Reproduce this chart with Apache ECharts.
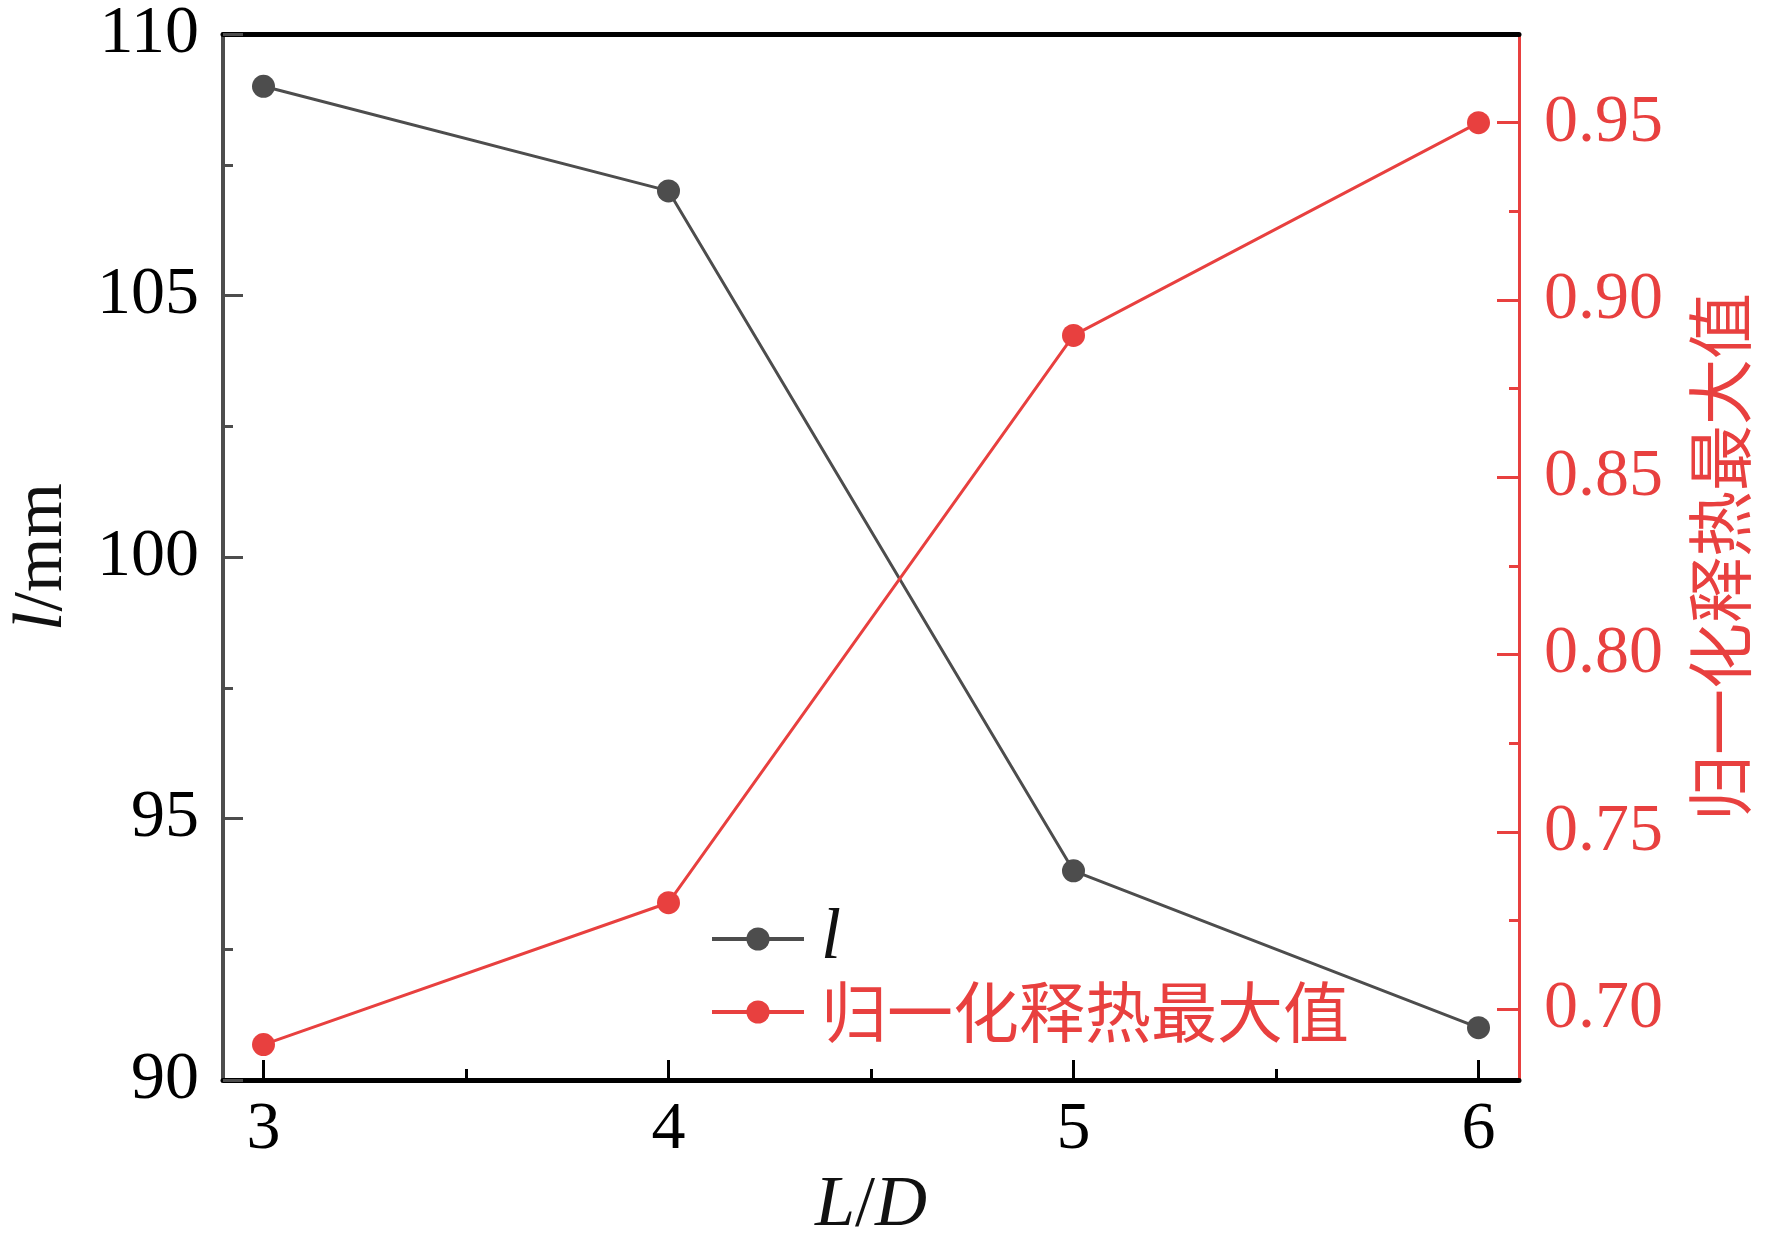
<!DOCTYPE html>
<html>
<head>
<meta charset="utf-8">
<script src="https://cdn.jsdelivr.net/npm/echarts@6/dist/echarts.min.js"></script>
<style>html,body{margin:0;padding:0;background:#fff;}#c{width:1772px;height:1250px;}</style>
</head>
<body>
<div id="c"></div>
<script>
const xValues = [3, 4, 5, 6];
const lValues = [109, 107, 94, 91];
const heatValues = [0.69, 0.73, 0.89, 0.95];
const xTicks = [3, 4, 5, 6];
const xMinorTicks = [3.5, 4.5, 5.5];
const rightTicks = [0.70, 0.75, 0.80, 0.85, 0.90, 0.95];
const rightMinorTicks = [0.725, 0.775, 0.825, 0.875, 0.925];
const seriesNames = ['l', '归一化释热最大值'];

const GRAY = '#4d4d4d';
const RED = '#e8403f';
const SERIF = '"Liberation Serif", "Times New Roman", serif';
const CJK = '"Noto Sans CJK SC", sans-serif';

const chart = echarts.init(document.getElementById('c'), null, {renderer: 'canvas'});
const option = {
  backgroundColor: '#fff',
  animation: false,
  grid: {left: 220, right: 253, top: 34, bottom: 170, containLabel: false},
  legend: {
    orient: 'vertical', left: 705, top: 898,
    itemWidth: 92, itemHeight: 29, itemGap: 4,
    data: seriesNames.map(n => ({name: n})),
    lineStyle: {width: 4},
    formatter: n => n === 'l' ? '{i|l}' : '{r|' + n + '}',
    textStyle: {
      rich: {
        i: {fontFamily: SERIF, fontStyle: 'italic', fontSize: 72, color: '#111', lineHeight: 74, padding: [0,0,0,12]},
        r: {fontFamily: CJK, fontSize: 66, color: RED, lineHeight: 74, padding: [0,0,0,12]}
      }
    }
  },
  xAxis: [
    {
      type: 'value', position: 'bottom', min: 2.9, max: 6.1,
      name: '{i|L}{n|/}{i|D}', nameLocation: 'middle', nameGap: 90,
      nameTextStyle: {rich: {
        i: {fontFamily: SERIF, fontStyle: 'italic', fontSize: 72, color: '#111'},
        n: {fontFamily: SERIF, fontSize: 72, color: '#111'}
      }},
      axisLine: {show: true, onZero: false, lineStyle: {color: '#000', width: 5}},
      axisTick: {show: true, inside: true, length: 20, customValues: xTicks, lineStyle: {color: '#000', width: 3}},
      axisLabel: {show: true, customValues: xTicks, margin: 16, fontFamily: SERIF, fontSize: 68, color: '#000'},
      splitLine: {show: false}
    },
    {
      type: 'value', position: 'bottom', min: 2.9, max: 6.1,
      axisLine: {show: false, onZero: false},
      axisTick: {show: true, inside: true, length: 11, customValues: xMinorTicks, lineStyle: {color: '#000', width: 3}},
      axisLabel: {show: false},
      splitLine: {show: false}
    },
    {
      type: 'value', position: 'top', min: 2.9, max: 6.1,
      axisLine: {show: true, onZero: false, lineStyle: {color: '#000', width: 5}},
      axisTick: {show: false}, axisLabel: {show: false}, splitLine: {show: false}
    }
  ],
  yAxis: [
    {
      type: 'value', position: 'left', min: 90, max: 110, interval: 5,
      name: '{i|l}{n|/mm}', nameLocation: 'middle', nameGap: 145, nameRotate: 90,
      nameTextStyle: {rich: {
        i: {fontFamily: SERIF, fontStyle: 'italic', fontSize: 70, color: '#111'},
        n: {fontFamily: SERIF, fontSize: 70, color: '#111'}
      }},
      axisLine: {show: true, onZero: false, lineStyle: {color: GRAY, width: 4}},
      axisTick: {show: true, inside: true, length: 20, lineStyle: {color: GRAY, width: 3}},
      minorTick: {show: true, splitNumber: 2, length: 10, lineStyle: {color: GRAY, width: 3}},
      axisLabel: {margin: 24, fontFamily: SERIF, fontSize: 68, color: '#000'},
      splitLine: {show: false}
    },
    {
      type: 'value', position: 'right', min: 0.68, max: 0.975,
      name: '归一化释热最大值', nameLocation: 'middle', nameGap: 168, nameRotate: 90,
      nameTextStyle: {fontFamily: CJK, fontSize: 66, color: RED},
      axisLine: {show: true, onZero: false, lineStyle: {color: RED, width: 3}},
      axisTick: {show: true, inside: true, length: 22, customValues: rightTicks, lineStyle: {color: RED, width: 3}},
      axisLabel: {customValues: rightTicks, margin: 25, fontFamily: SERIF, fontSize: 68, color: RED,
        formatter: v => v.toFixed(2)},
      splitLine: {show: false}
    },
    {
      type: 'value', position: 'right', min: 0.68, max: 0.975,
      axisLine: {show: false, onZero: false},
      axisTick: {show: true, inside: true, length: 10, customValues: rightMinorTicks, lineStyle: {color: RED, width: 3}},
      axisLabel: {show: false},
      splitLine: {show: false}
    }
  ],
  series: [
    {
      name: seriesNames[0], type: 'line', xAxisIndex: 0, yAxisIndex: 0,
      data: xValues.map((x, i) => [x, lValues[i]]),
      symbol: 'circle', symbolSize: 23,
      lineStyle: {color: GRAY, width: 3},
      itemStyle: {color: GRAY},
      z: 3
    },
    {
      name: seriesNames[1], type: 'line', xAxisIndex: 0, yAxisIndex: 1,
      data: xValues.map((x, i) => [x, heatValues[i]]),
      symbol: 'circle', symbolSize: 23,
      lineStyle: {color: RED, width: 3},
      itemStyle: {color: RED},
      z: 3
    }
  ]
};
chart.setOption(option);
</script>
</body>
</html>
